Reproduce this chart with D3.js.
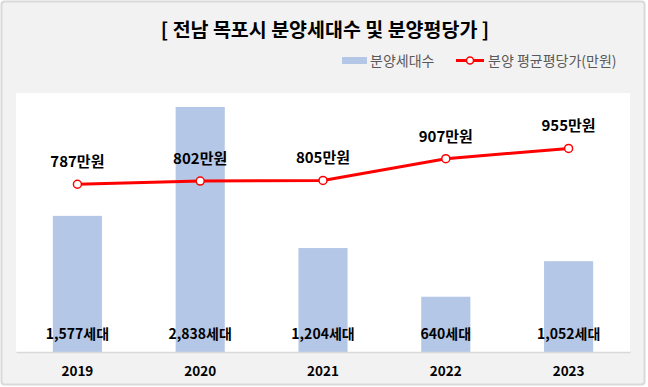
<!DOCTYPE html>
<html>
<head>
<meta charset="utf-8">
<script src="https://cdn.jsdelivr.net/npm/d3@7"></script>
<style>
  body { margin: 0; background: #fff; }
  text { font-family: "Noto Sans CJK KR", "Noto Sans", sans-serif; }
</style>
</head>
<body>
<div id="chart"></div>
<script>
// data
const years = ["2019", "2020", "2021", "2022", "2023"];
const units = [1577, 2838, 1204, 640, 1052];         // 분양세대수
const prices = [787, 802, 805, 907, 955];            // 분양 평균평당가(만원)

const width = 648, height = 387;
const plot = { left: 16, right: 630, top: 93, bottom: 352 };

const svg = d3.select("#chart").append("svg")
    .attr("width", width)
    .attr("height", height);

// outer frame
svg.append("rect")
    .attr("x", 1.5).attr("y", 1.5)
    .attr("width", width - 5).attr("height", height - 4)
    .attr("rx", 3)
    .attr("fill", "#f2f2f2")
    .attr("stroke", "#d9d9d9")
    .attr("stroke-width", 2);

// plot area
svg.append("rect")
    .attr("x", plot.left).attr("y", plot.top)
    .attr("width", plot.right - plot.left).attr("height", plot.bottom - plot.top)
    .attr("fill", "#fff");

// title
svg.append("text")
    .attr("x", 325).attr("y", 37)
    .attr("text-anchor", "middle")
    .style("font-size", "19.5px")
    .style("font-weight", "bold")
    .attr("fill", "#000")
    .text("[ 전남 목포시 분양세대수 및 분양평당가 ]");

// scales
const x = d3.scaleBand().domain(years).range([plot.left, plot.right]);
const yBar = d3.scaleLinear().domain([0, 3000]).range([plot.bottom, plot.top]);
const yLine = d3.scaleLinear().domain([0, 1215]).range([plot.bottom, plot.top]);
const barW = x.bandwidth() * 0.4;
const cx = d => x(d) + x.bandwidth() / 2;

// bars
svg.append("g").selectAll("rect")
    .data(units)
    .join("rect")
    .attr("x", (d, i) => cx(years[i]) - barW / 2)
    .attr("y", d => yBar(d))
    .attr("width", barW)
    .attr("height", d => plot.bottom - yBar(d))
    .attr("fill", "#b4c7e7");

// x axis
const xAxis = svg.append("g")
    .attr("transform", `translate(0,${plot.bottom})`)
    .call(d3.axisBottom(x).tickSize(0).tickPadding(14));
xAxis.select(".domain").attr("stroke", "#d9d9d9").attr("stroke-width", 1.5);
xAxis.selectAll("text")
    .style("font-size", "13.5px")
    .style("font-weight", "bold")
    .style("font-family", "'Liberation Sans Narrow', 'Noto Sans CJK KR', sans-serif")
    .attr("fill", "#000");

// bar labels
svg.append("g").selectAll("text")
    .data(units)
    .join("text")
    .attr("x", (d, i) => cx(years[i]))
    .attr("y", 339)
    .attr("text-anchor", "middle")
    .style("font-size", "14px")
    .style("font-weight", "bold")
    .attr("fill", "#000")
    .text(d => d3.format(",")(d) + "세대");

// price line
const line = d3.line()
    .x((d, i) => cx(years[i]))
    .y(d => yLine(d));

svg.append("path")
    .datum(prices)
    .attr("d", line)
    .attr("fill", "none")
    .attr("stroke", "#ff0000")
    .attr("stroke-width", 3);

svg.append("g").selectAll("circle")
    .data(prices)
    .join("circle")
    .attr("cx", (d, i) => cx(years[i]))
    .attr("cy", d => yLine(d))
    .attr("r", 4)
    .attr("fill", "#fff")
    .attr("stroke", "#ff0000")
    .attr("stroke-width", 1.5);

svg.append("g").selectAll("text")
    .data(prices)
    .join("text")
    .attr("x", (d, i) => cx(years[i]))
    .attr("y", d => yLine(d) - 17)
    .attr("text-anchor", "middle")
    .style("font-size", "15px")
    .style("font-weight", "bold")
    .attr("fill", "#000")
    .text(d => d + "만원");

// legend
const legend = svg.append("g").style("font-size", "14px").attr("fill", "#595959");
legend.append("rect")
    .attr("x", 342).attr("y", 57).attr("width", 25).attr("height", 7)
    .attr("fill", "#b4c7e7");
legend.append("text").attr("x", 370).attr("y", 66).text("분양세대수");
legend.append("line")
    .attr("x1", 456).attr("x2", 484).attr("y1", 60.5).attr("y2", 60.5)
    .attr("stroke", "#ff0000").attr("stroke-width", 3);
legend.append("circle")
    .attr("cx", 470).attr("cy", 60.5).attr("r", 3.5)
    .attr("fill", "#fff").attr("stroke", "#ff0000").attr("stroke-width", 1.5);
legend.append("text").attr("x", 488).attr("y", 66).text("분양 평균평당가(만원)");
</script>
</body>
</html>
